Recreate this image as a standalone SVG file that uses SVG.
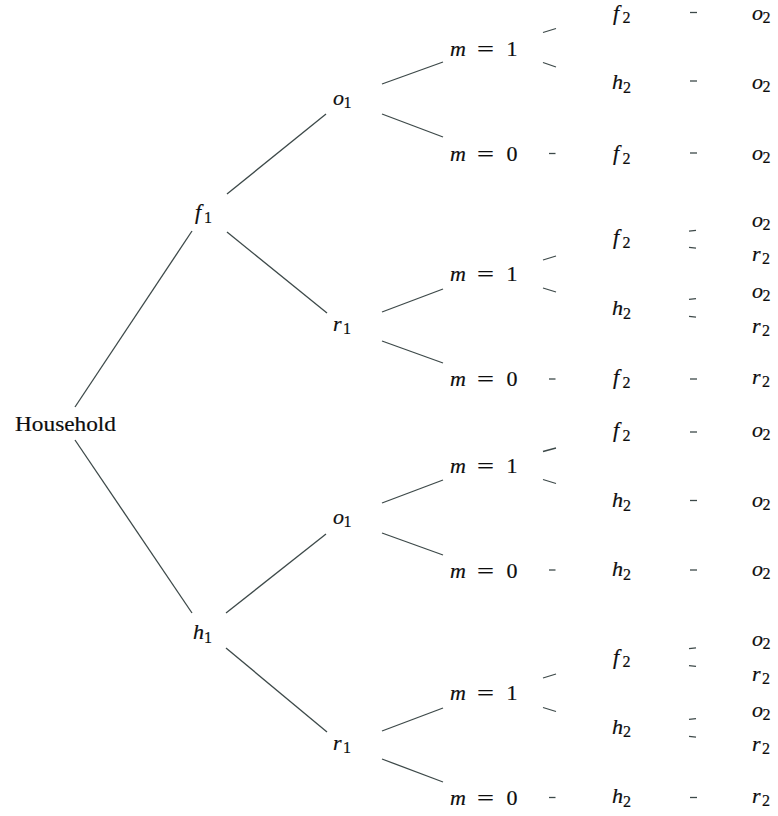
<svg xmlns="http://www.w3.org/2000/svg" width="778" height="816" viewBox="0 0 778 816">
  <style>
    text { font-family: "Liberation Serif", "Times New Roman", serif; fill: #0d0d0d; stroke: #0d0d0d; stroke-width: 0.2; }
    .v { font-style: italic; font-size: 22px; }
    .s { font-size: 16px; }
    .r { font-size: 22px; }
    .e { stroke: #3d4949; stroke-width: 1.3; fill: none; stroke-linecap: butt; }
  </style>
  <rect width="778" height="816" fill="#fff"/>

  <!-- connectors -->
  <g id="edges" class="e">
    <!-- root to first choice -->
    <line x1="75" y1="407" x2="192" y2="231"/>
    <line x1="75" y1="440" x2="192" y2="613"/>
    <!-- first choice to second -->
    <line x1="227" y1="194" x2="326" y2="114"/>
    <line x1="227" y1="232" x2="327" y2="313"/>
    <line x1="226" y1="613" x2="326" y2="534"/>
    <line x1="226" y1="648" x2="327" y2="732"/>
    <!-- second to m -->
    <line x1="382" y1="84" x2="443" y2="62"/>
    <line x1="382" y1="114" x2="443" y2="137"/>
    <line x1="382" y1="312" x2="443" y2="289"/>
    <line x1="382" y1="341" x2="443" y2="363"/>
    <line x1="382" y1="503" x2="443" y2="480"/>
    <line x1="382" y1="533" x2="443" y2="555"/>
    <line x1="382" y1="731" x2="443" y2="708"/>
    <line x1="382" y1="759" x2="443" y2="782"/>
    <!-- m = 1 split -->
    <line x1="543" y1="32.5" x2="556" y2="28.5"/>
    <line x1="543" y1="62.5" x2="556" y2="67"/>
    <line x1="543" y1="260" x2="556" y2="256"/>
    <line x1="543" y1="288" x2="556" y2="292"/>
    <line x1="543" y1="451.5" x2="556" y2="448"/>
    <line x1="543" y1="479.5" x2="556" y2="483.5"/>
    <line x1="543" y1="678" x2="556" y2="674"/>
    <line x1="543" y1="707.5" x2="556" y2="711.5"/>
    <!-- m = 0 ticks -->
    <line x1="549" y1="153.5" x2="555.5" y2="153.5"/>
    <line x1="549" y1="379" x2="555.5" y2="379"/>
    <line x1="549" y1="570" x2="555.5" y2="570"/>
    <line x1="549" y1="797.5" x2="555.5" y2="797.5"/>
    <!-- single ticks to last column -->
    <line x1="690" y1="12.5" x2="697" y2="12.5"/>
    <line x1="690" y1="81" x2="697" y2="81"/>
    <line x1="690" y1="153" x2="697" y2="153"/>
    <line x1="690" y1="379" x2="697" y2="379"/>
    <line x1="690" y1="432" x2="697" y2="432"/>
    <line x1="690" y1="500.5" x2="697" y2="500.5"/>
    <line x1="690" y1="570" x2="697" y2="570"/>
    <line x1="690" y1="797.5" x2="697" y2="797.5"/>
    <!-- double ticks -->
    <line x1="689" y1="231.2" x2="696" y2="230.4"/>
    <line x1="689" y1="247.4" x2="696" y2="248.2"/>
    <line x1="689" y1="299.4" x2="696" y2="298.6"/>
    <line x1="689" y1="316.4" x2="696" y2="317.2"/>
    <line x1="689" y1="648.7" x2="696" y2="647.9"/>
    <line x1="689" y1="665.6" x2="696" y2="666.4"/>
    <line x1="689" y1="719.4" x2="696" y2="718.6"/>
    <line x1="689" y1="736.4" x2="696" y2="737.2"/>
  </g>

  <!-- root -->
  <g id="household"><text x="15" y="431" class="r" textLength="101" lengthAdjust="spacingAndGlyphs">Household</text></g>

  <!-- first level -->
  <g id="f1"><text x="195" y="219" class="v">f</text><text x="204" y="223" class="s">1</text></g>
  <g id="h1"><text x="193" y="639" class="v">h</text><text x="204" y="643" class="s">1</text></g>

  <!-- second level -->
  <g id="f1-o1"><text x="333" y="105" class="v">o</text><text x="343.5" y="108" class="s">1</text></g>
  <g id="f1-r1"><text x="333" y="331" class="v">r</text><text x="343" y="334" class="s">1</text></g>
  <g id="h1-o1"><text x="333" y="523.5" class="v">o</text><text x="343.5" y="526.5" class="s">1</text></g>
  <g id="h1-r1"><text x="333" y="750" class="v">r</text><text x="343" y="753" class="s">1</text></g>

  <!-- m nodes -->
  <g id="m1-a"><text x="450" y="56" class="v">m</text><text x="477" y="56" class="r" textLength="17" lengthAdjust="spacingAndGlyphs">=</text><text x="512" y="56" class="r" text-anchor="middle">1</text></g>
  <g id="m0-a"><text x="450" y="160.5" class="v">m</text><text x="477" y="160.5" class="r" textLength="17" lengthAdjust="spacingAndGlyphs">=</text><text x="512" y="160.5" class="r" text-anchor="middle">0</text></g>
  <g id="m1-b"><text x="450" y="281" class="v">m</text><text x="477" y="281" class="r" textLength="17" lengthAdjust="spacingAndGlyphs">=</text><text x="512" y="281" class="r" text-anchor="middle">1</text></g>
  <g id="m0-b"><text x="450" y="386" class="v">m</text><text x="477" y="386" class="r" textLength="17" lengthAdjust="spacingAndGlyphs">=</text><text x="512" y="386" class="r" text-anchor="middle">0</text></g>
  <g id="m1-c"><text x="450" y="472.5" class="v">m</text><text x="477" y="472.5" class="r" textLength="17" lengthAdjust="spacingAndGlyphs">=</text><text x="512" y="472.5" class="r" text-anchor="middle">1</text></g>
  <g id="m0-c"><text x="450" y="577.5" class="v">m</text><text x="477" y="577.5" class="r" textLength="17" lengthAdjust="spacingAndGlyphs">=</text><text x="512" y="577.5" class="r" text-anchor="middle">0</text></g>
  <g id="m1-d"><text x="450" y="700" class="v">m</text><text x="477" y="700" class="r" textLength="17" lengthAdjust="spacingAndGlyphs">=</text><text x="512" y="700" class="r" text-anchor="middle">1</text></g>
  <g id="m0-d"><text x="450" y="805" class="v">m</text><text x="477" y="805" class="r" textLength="17" lengthAdjust="spacingAndGlyphs">=</text><text x="512" y="805" class="r" text-anchor="middle">0</text></g>

  <!-- third level: f2 / h2 -->
  <g id="a-f2"><text x="613" y="19.5" class="v">f</text><text x="622.5" y="23" class="s">2</text></g>
  <g id="a-h2"><text x="612" y="89" class="v">h</text><text x="623" y="92.5" class="s">2</text></g>
  <g id="a0-f2"><text x="613" y="160" class="v">f</text><text x="622.5" y="163.5" class="s">2</text></g>
  <g id="b-f2"><text x="613" y="244" class="v">f</text><text x="622.5" y="247.5" class="s">2</text></g>
  <g id="b-h2"><text x="612" y="315" class="v">h</text><text x="623" y="318.5" class="s">2</text></g>
  <g id="b0-f2"><text x="613" y="384" class="v">f</text><text x="622.5" y="387.5" class="s">2</text></g>
  <g id="c-f2"><text x="613" y="437" class="v">f</text><text x="622.5" y="440.5" class="s">2</text></g>
  <g id="c-h2"><text x="612" y="507" class="v">h</text><text x="623" y="510.5" class="s">2</text></g>
  <g id="c0-h2"><text x="612" y="576" class="v">h</text><text x="623" y="579.5" class="s">2</text></g>
  <g id="d-f2"><text x="613" y="663.5" class="v">f</text><text x="622.5" y="667" class="s">2</text></g>
  <g id="d-h2"><text x="612" y="733.5" class="v">h</text><text x="623" y="737" class="s">2</text></g>
  <g id="d0-h2"><text x="612" y="803" class="v">h</text><text x="623" y="806.5" class="s">2</text></g>

  <!-- fourth level: o2 / r2 -->
  <g id="a-f2-o2"><text x="752" y="19.5" class="v">o</text><text x="762.5" y="22.5" class="s">2</text></g>
  <g id="a-h2-o2"><text x="752" y="89" class="v">o</text><text x="762.5" y="92" class="s">2</text></g>
  <g id="a0-f2-o2"><text x="752" y="160" class="v">o</text><text x="762.5" y="163" class="s">2</text></g>
  <g id="b-f2-o2"><text x="752" y="227" class="v">o</text><text x="762.5" y="230" class="s">2</text></g>
  <g id="b-f2-r2"><text x="752" y="261" class="v">r</text><text x="762" y="264" class="s">2</text></g>
  <g id="b-h2-o2"><text x="752" y="297.5" class="v">o</text><text x="762.5" y="300.5" class="s">2</text></g>
  <g id="b-h2-r2"><text x="752" y="332.5" class="v">r</text><text x="762" y="335.5" class="s">2</text></g>
  <g id="b0-f2-r2"><text x="752" y="383.5" class="v">r</text><text x="762" y="386.5" class="s">2</text></g>
  <g id="c-f2-o2"><text x="752" y="437" class="v">o</text><text x="762.5" y="440" class="s">2</text></g>
  <g id="c-h2-o2"><text x="752" y="507" class="v">o</text><text x="762.5" y="510" class="s">2</text></g>
  <g id="c0-h2-o2"><text x="752" y="575.5" class="v">o</text><text x="762.5" y="578.5" class="s">2</text></g>
  <g id="d-f2-o2"><text x="752" y="646" class="v">o</text><text x="762.5" y="649" class="s">2</text></g>
  <g id="d-f2-r2"><text x="752" y="681" class="v">r</text><text x="762" y="684" class="s">2</text></g>
  <g id="d-h2-o2"><text x="752" y="716.5" class="v">o</text><text x="762.5" y="719.5" class="s">2</text></g>
  <g id="d-h2-r2"><text x="752" y="750.5" class="v">r</text><text x="762" y="753.5" class="s">2</text></g>
  <g id="d0-h2-r2"><text x="752" y="802.5" class="v">r</text><text x="762" y="805.5" class="s">2</text></g>
</svg>
